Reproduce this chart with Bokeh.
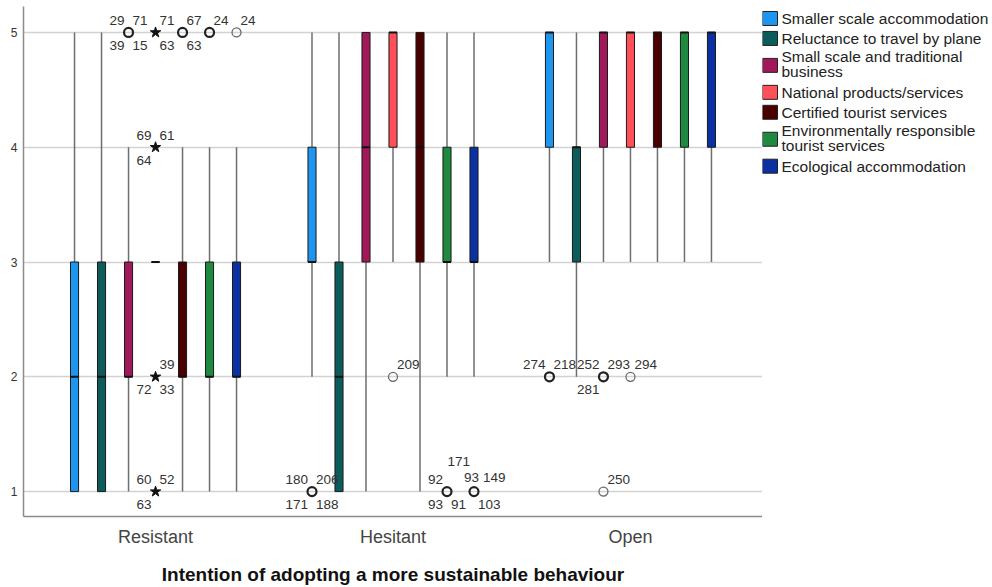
from bokeh.plotting import figure
from bokeh.models import ColumnDataSource, FixedTicker, Range1d
from bokeh.layouts import row
from bokeh.embed import file_html
from bokeh.resources import INLINE
from bokeh.core.properties import value

# ---------------- data ----------------
categories = ["Resistant", "Hesitant", "Open"]
series_names = [
    "Smaller scale accommodation",
    "Reluctance to travel by plane",
    "Small scale and traditional\nbusiness",
    "National products/services",
    "Certified tourist services",
    "Environmentally responsible\ntourist services",
    "Ecological accommodation",
]
series_colors = ["#1e96f0", "#0b5c5a", "#a0195b", "#ff4f58", "#4a0000", "#1f8a3f", "#0a30a2"]

# box-plot statistics, one list (7 series) per category
whisker_low = {"Resistant": [1, 1, 1, 3, 1, 1, 1],
               "Hesitant":  [2, 1, 1, 3, 1, 2, 2],
               "Open":      [3, 2, 3, 3, 3, 3, 3]}
quartile1 = {"Resistant": [1, 1, 2, 3, 2, 2, 2],
             "Hesitant":  [3, 1, 3, 4, 3, 3, 3],
             "Open":      [4, 3, 4, 4, 4, 4, 4]}
median = {"Resistant": [2, 2, 2, 3, 2, 2, 2],
          "Hesitant":  [3, 2, 4, 5, 4, 3, 3],
          "Open":      [5, 4, 5, 5, 5, 5, 5]}
quartile3 = {"Resistant": [3, 3, 3, 3, 3, 3, 3],
             "Hesitant":  [4, 3, 5, 5, 5, 4, 4],
             "Open":      [5, 4, 5, 5, 5, 5, 5]}
whisker_high = {"Resistant": [5, 5, 4, 3, 4, 4, 4],
                "Hesitant":  [5, 5, 5, 5, 5, 5, 5],
                "Open":      [5, 5, 5, 5, 5, 5, 5]}

# outliers: (category, series index, value, marker kind, [(case id, label place), ...])
outliers = [
    ("Resistant", 2, 5, "bold",  [("29", "ul"), ("71", "ur"), ("39", "ll"), ("15", "lr")]),
    ("Resistant", 3, 5, "star",  [("71", "ur"), ("63", "lr")]),
    ("Resistant", 3, 4, "star",  [("69", "ul"), ("61", "ur"), ("64", "ll")]),
    ("Resistant", 3, 2, "star",  [("39", "ur"), ("72", "ll"), ("33", "lr")]),
    ("Resistant", 3, 1, "star",  [("60", "ul"), ("52", "ur"), ("63", "ll")]),
    ("Resistant", 4, 5, "bold",  [("67", "ur"), ("63", "lr")]),
    ("Resistant", 5, 5, "bold",  [("24", "ur")]),
    ("Resistant", 6, 5, "light", [("24", "ur")]),
    ("Hesitant", 0, 1, "bold",   [("180", "ul"), ("206", "ur"), ("171", "ll"), ("188", "lr")]),
    ("Hesitant", 3, 2, "light",  [("209", "ur")]),
    ("Hesitant", 5, 1, "bold",   [("92", "ul"), ("93", "ll"), ("91", "lr")]),
    ("Hesitant", 6, 1, "bold",   [("171", "uul"), ("93", "uc"), ("149", "ur2"), ("103", "lr")]),
    ("Open", 0, 2, "bold",       [("274", "ul"), ("218", "ur")]),
    ("Open", 2, 2, "bold",       [("252", "ul"), ("281", "ll"), ("293", "ur")]),
    ("Open", 3, 2, "light",      [("294", "ur")]),
    ("Open", 2, 1, "light",      [("250", "ur")]),
]

y_ticks = [1, 2, 3, 4, 5]
x_title = "Intention of adopting a more sustainable behaviour"

# ---------------- style ----------------
FONT = "Liberation Sans"
SLOT = 0.1137      # spacing between the boxes of one category (category units)
BOX_W = 0.034      # box width (category units)
PLACES = {  # label placement: (align, x offset px, y offset px)
    "ul": ("right", -4, -12), "ur": ("left", 4, -12),
    "ll": ("right", -4, 13), "lr": ("left", 4, 13),
    "uul": ("right", -4, -30), "uc": ("right", 5, -14), "ur2": ("left", 9, -14),
}


def xpos(cat, s):
    return categories.index(cat) + (s - (len(series_names) - 1) / 2) * SLOT


# box source
bx, lo, q1, md, q3, hi, col, xl, xr = [], [], [], [], [], [], [], [], []
for cat in categories:
    for s in range(len(series_names)):
        x = xpos(cat, s)
        bx.append(x)
        xl.append(x - BOX_W / 2)
        xr.append(x + BOX_W / 2)
        lo.append(whisker_low[cat][s])
        q1.append(quartile1[cat][s])
        md.append(median[cat][s])
        q3.append(quartile3[cat][s])
        hi.append(whisker_high[cat][s])
        col.append(series_colors[s])
box_src = ColumnDataSource(dict(x=bx, xl=xl, xr=xr, lo=lo, q1=q1, md=md, q3=q3, hi=hi, color=col))

FRAME_TOP, FRAME_BOTTOM = 6, 517

p = figure(width=762, height=587, output_backend="svg", toolbar_location=None,
           x_range=Range1d(-0.556, 2.556), y_range=Range1d(0.783, 5.226),
           min_border_left=23, min_border_right=0, min_border_top=FRAME_TOP,
           min_border_bottom=587 - FRAME_BOTTOM,
           outline_line_color=None, background_fill_color="white", border_fill_color="white")

p.xgrid.visible = False
p.ygrid.grid_line_color = "#d2d2d2"
p.ygrid.grid_line_width = 1.5

p.yaxis.ticker = FixedTicker(ticks=y_ticks)
p.yaxis.major_tick_out = 0
p.yaxis.major_tick_in = 0
p.yaxis.minor_tick_out = 0
p.yaxis.minor_tick_in = 0
p.yaxis.major_label_standoff = 6
p.yaxis.major_label_text_font = FONT
p.yaxis.major_label_text_font_size = "12px"
p.yaxis.major_label_text_color = "#333333"
p.yaxis.axis_line_color = "#8c8c8c"
p.yaxis.axis_line_width = 1.5

p.xaxis.ticker = FixedTicker(ticks=list(range(len(categories))))
p.xaxis.major_label_overrides = {i: c for i, c in enumerate(categories)}
p.xaxis.major_tick_out = 0
p.xaxis.major_tick_in = 0
p.xaxis.minor_tick_out = 0
p.xaxis.minor_tick_in = 0
p.xaxis.major_label_standoff = 10
p.xaxis.major_label_text_font = FONT
p.xaxis.major_label_text_font_size = "18px"
p.xaxis.major_label_text_color = "#444444"
p.xaxis.axis_line_color = "#8c8c8c"
p.xaxis.axis_line_width = 1.5
p.xaxis.axis_label = x_title
p.xaxis.axis_label_text_font = FONT
p.xaxis.axis_label_text_font_size = "19px"
p.xaxis.axis_label_text_font_style = "bold"
p.xaxis.axis_label_text_color = "#111111"
p.xaxis.axis_label_standoff = 14

# whiskers
p.segment(x0="x", y0="lo", x1="x", y1="q1", source=box_src, line_color="#6e6e6e", line_width=1.5)
p.segment(x0="x", y0="q3", x1="x", y1="hi", source=box_src, line_color="#6e6e6e", line_width=1.5)
# boxes
p.vbar(x="x", width=BOX_W, bottom="q1", top="q3", source=box_src,
       fill_color="color", line_color="#1a1a1a", line_width=1)
# medians
p.segment(x0="xl", y0="md", x1="xr", y1="md", source=box_src, line_color="#111111", line_width=2)

# outliers
groups = {"bold": ([], []), "light": ([], []), "star": ([], [])}
lx, ly, lt, lxo, lyo, lal = [], [], [], [], [], []
for cat, s, v, kind, labels in outliers:
    x = xpos(cat, s)
    groups[kind][0].append(x)
    groups[kind][1].append(v)
    for txt, place in labels:
        al, dx, dy = PLACES[place]
        lx.append(x)
        ly.append(v)
        lt.append(txt)
        lxo.append(dx)
        lyo.append(dy)
        lal.append(al)

p.scatter(groups["bold"][0], groups["bold"][1], marker="circle", size=9,
          fill_color=None, line_color="#222222", line_width=2.2)
p.scatter(groups["light"][0], groups["light"][1], marker="circle", size=9,
          fill_color=None, line_color="#6a6a6a", line_width=1.3)
p.scatter(groups["star"][0], groups["star"][1], marker="star", size=11,
          fill_color="#111111", line_color="#111111", line_width=1)

lab_src = ColumnDataSource(dict(x=lx, y=ly, text=lt, xo=lxo, yo=lyo, al=lal))
p.text(x="x", y="y", text="text", x_offset="xo", y_offset="yo", text_align="al",
       text_baseline="middle", source=lab_src, text_font=value(FONT),
       text_font_size="13.5px", text_color="#333333")

# ---------------- legend (separate panel, frame aligned with the main frame) ----------------
LEG_W = 230
leg = figure(width=LEG_W, height=587, output_backend="svg", toolbar_location=None,
             x_range=Range1d(0, LEG_W), y_range=Range1d(FRAME_BOTTOM, FRAME_TOP),
             min_border_left=0, min_border_right=0, min_border_top=FRAME_TOP,
             min_border_bottom=587 - FRAME_BOTTOM,
             outline_line_color=None, x_axis_location=None, y_axis_location=None,
             background_fill_color="white", border_fill_color="white")
leg.grid.visible = False

sw_y, tx, ty, tt = [], [], [], []
y = 18
prev_h = None
for name in series_names:
    lines = name.split("\n")
    h = 20 if len(lines) == 1 else 34
    if prev_h is not None:
        y += (prev_h + h) / 2
    prev_h = h
    sw_y.append(y)
    n = len(lines)
    for k, ln in enumerate(lines):
        tx.append(19)
        ty.append(y - 1 * (n > 1) + (k - (n - 1) / 2) * 15)
        tt.append(ln)

leg.rect(x=[7.5] * len(sw_y), y=sw_y, width=15, height=14,
         fill_color=series_colors, line_color="#222222", line_width=1)
leg.text(x=tx, y=ty, text=tt, text_align="left", text_baseline="middle",
         text_font=value(FONT), text_font_size="15.5px", text_color="#222222")

layout = row(p, leg)
open("out.html", "w").write(file_html(layout, INLINE))
